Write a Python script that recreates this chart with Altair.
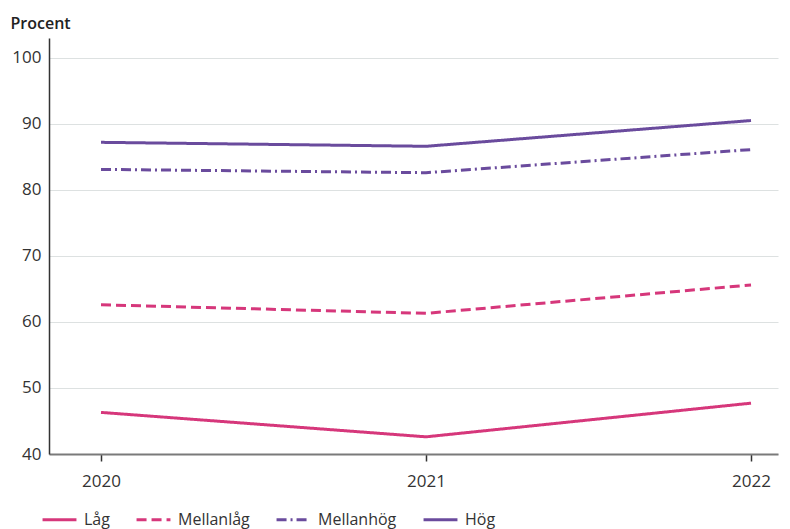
import altair as alt
import pandas as pd

years = [2020, 2021, 2022]
series = ["Låg", "Mellanlåg", "Mellanhög", "Hög"]
lag = [46.3, 42.6, 47.7]
mellanlag = [62.6, 61.3, 65.6]
mellanhog = [83.1, 82.6, 86.1]
hog = [87.2, 86.6, 90.5]

colors = ["#d6377b", "#d6377b", "#6a4b9d", "#6a4b9d"]
dashes = [[1, 0], [10, 5], [10, 4, 2, 4], [1, 0]]

rows = []
for name, vals in zip(series, [lag, mellanlag, mellanhog, hog]):
    for y, v in zip(years, vals):
        rows.append({"År": y, "Värde": v, "Grupp": name})
df = pd.DataFrame(rows)

FONT = "Open Sans"

chart = alt.Chart(df).mark_line(strokeWidth=3).encode(
    x=alt.X("År:Q",
            scale=alt.Scale(domain=[2019.84, 2022.083], nice=False, zero=False),
            axis=alt.Axis(values=years, format="d", title=None, grid=False,
                          labelFontSize=17, labelColor="#333333", labelPadding=12,
                          domainColor="#7a7a7a", domainWidth=2,
                          tickColor="#333333", tickSize=7, tickWidth=1.5,
                          labelFont=FONT)),
    y=alt.Y("Värde:Q",
            scale=alt.Scale(domain=[40, 103], nice=False, zero=False),
            axis=alt.Axis(values=[40, 50, 60, 70, 80, 90, 100], title="Procent",
                          titleAngle=0, titleX=-39, titleY=-10, titleAlign="left",
                          titleBaseline="alphabetic", titleFontSize=16, titleFontWeight=600,
                          titleColor="#222222", titleFont=FONT,
                          labelFontSize=17, labelColor="#333333", labelPadding=8,
                          labelFont=FONT, ticks=False,
                          domainColor="#333333", domainWidth=1.5,
                          gridColor="#dde1e1", gridWidth=1.2)),
    color=alt.Color("Grupp:N", scale=alt.Scale(domain=series, range=colors),
                    legend=alt.Legend(title=None, orient="none", direction="horizontal",
                                      legendX=-8, legendY=463, symbolType="stroke",
                                      symbolSize=1150, symbolStrokeWidth=3,
                                      labelFontSize=16, labelColor="#333333",
                                      labelFont=FONT, columnPadding=20, labelOffset=6)),
    strokeDash=alt.StrokeDash("Grupp:N", scale=alt.Scale(domain=series, range=dashes),
                              legend=None),
    detail="Grupp:N",
).properties(
    width=729, height=416,
    autosize=alt.AutoSizeParams(type="none"),
    padding={"left": 41, "top": 30, "right": 4, "bottom": 75},
).configure_view(stroke=None)

chart.save("out.html", embed_options={"renderer": "svg", "actions": False})
